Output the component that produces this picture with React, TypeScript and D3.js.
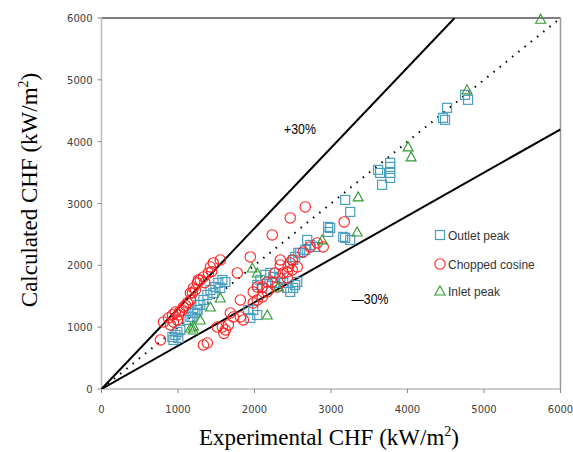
import React from "react";
import * as d3 from "d3";

const ticks = [0, 1000, 2000, 3000, 4000, 5000, 6000];

const outletPeak = [
  [940, 793], [966, 874], [992, 922], [1031, 955], [927, 841], [1005, 825],
  [1136, 1117], [1188, 1165], [1227, 1230], [1266, 1359], [1253, 1278],
  [1162, 1165], [1201, 1230], [1253, 1278], [1292, 1359], [1332, 1440], [1384, 1521],
  [1423, 1602], [1488, 1650], [1527, 1715], [1580, 1764], [1619, 1731], [1553, 1634], [1462, 1553],
  [2036, 1683], [2076, 1764], [2102, 1634], [2141, 1845], [2206, 1877], [2245, 1812],
  [2271, 1715], [2337, 1796], [2376, 1715], [2428, 1634], [2467, 1570], [2506, 1634],
  [2532, 1683], [2559, 1731], [2572, 2201], [2506, 2087], [1984, 1278], [2036, 1197],
  [1919, 1278], [1945, 1149],
  [2532, 2136], [2598, 2201], [2663, 2249], [2689, 2411], [2728, 2330], [2794, 2298],
  [2963, 2621], [2963, 2540], [2990, 2605], [3159, 2460], [3185, 2443], [3251, 2411],
  [3185, 3058], [3251, 2864],
  [3642, 3495], [3616, 3544], [3668, 3301], [3773, 3592], [3773, 3657], [3773, 3495], [3773, 3414],
  [4517, 4547], [4465, 4385], [4491, 4353], [4752, 4757], [4791, 4676],
];

const choppedCosine = [
  [770, 793], [810, 1084], [875, 1149], [927, 1197], [966, 1246], [901, 1036], [940, 1084],
  [992, 1117], [1005, 1197], [1057, 1278], [1070, 1327], [1123, 1392], [1162, 1440],
  [1188, 1553], [1227, 1602], [1253, 1715], [1266, 1764], [1162, 1553], [1201, 1634],
  [1292, 1764], [1332, 1812], [1397, 1877], [1423, 1974], [1462, 2039], [1553, 2087],
  [1100, 1350], [1020, 1250], [1350, 1720], [1440, 1900],
  [1775, 1877], [1945, 2136], [2232, 2492], [2467, 2767], [2663, 2945], [3172, 2702],
  [2820, 2362], [2898, 2298], [2728, 2298], [2637, 2217], [2493, 2087], [2441, 1974],
  [2493, 1926], [2337, 2006], [2271, 1877], [2337, 2087], [2467, 2039], [2559, 1974],
  [2428, 1893], [1984, 1570], [2036, 1650], [2102, 1650], [2167, 1731], [2232, 1731],
  [2376, 1877], [2428, 1796], [1815, 1440], [1984, 1392], [2036, 1440], [2102, 1489],
  [2167, 1570], [2298, 1650], [1684, 1230], [1723, 1165], [1815, 1165], [1854, 1117],
  [1514, 1003], [1580, 1003], [1619, 955], [1658, 1036], [1600, 900], [1332, 712], [1384, 744],
];

const inletPeak = [
  [1162, 987], [1201, 955], [1201, 1020], [1292, 1117], [1423, 1327], [1553, 1472],
  [1971, 1958], [2036, 1877], [2167, 1197], [2311, 1650], [2885, 2411], [3342, 2540],
  [3355, 3107], [4008, 3916], [4047, 3754], [4778, 4838], [5740, 5980],
];

const blue = "#4a9fc0";
const red = "#ff2020";
const green = "#2e9a2e";

const x = d3.scaleLinear().domain([0, 6000]).range([101.5, 560.5]);
const y = d3.scaleLinear().domain([0, 6000]).range([389, 18]);

const Square = ({ cx, cy }) => (
  <rect x={cx - 4.5} y={cy - 4.5} width={9} height={9} fill="none" stroke={blue} strokeWidth="1.2" />
);
const Circle = ({ cx, cy }) => <circle cx={cx} cy={cy} r={5.2} fill="none" stroke={red} strokeWidth="1.1" />;
const Tri = ({ cx, cy }) => (
  <path d={`M${cx},${cy - 5}L${cx + 5},${cy + 4}L${cx - 5},${cy + 4}Z`} fill="none" stroke={green} strokeWidth="1.1" />
);

const App = () => {
  const line = d3
    .line()
    .x((d) => x(d[0]))
    .y((d) => y(d[1]));
  const tickFont = { fontFamily: "DejaVu Sans", fontSize: 10, fill: "#404040" };
  const legendFont = { fontFamily: "Liberation Sans", fontSize: 12, fill: "#333" };

  return (
    <svg width={573} height={452} style={{ position: "absolute", left: 0, top: 0, background: "#fff" }}>
      <defs>
        <clipPath id="plot">
          <rect x={x(0)} y={y(6000)} width={x(6000) - x(0)} height={y(0) - y(6000)} />
        </clipPath>
      </defs>

      {/* frame */}
      <line x1={x(0)} x2={x(6000)} y1={y(6000)} y2={y(6000)} stroke="#555" strokeWidth="1.5" />
      <line x1={x(6000)} x2={x(6000)} y1={y(6000)} y2={y(0)} stroke="#999" strokeWidth="1.5" />
      <line x1={x(0)} x2={x(0)} y1={y(6000)} y2={y(0)} stroke="#bbb" strokeWidth="1.5" />
      <line x1={x(0)} x2={x(6000)} y1={y(0)} y2={y(0)} stroke="#bbb" strokeWidth="1.5" />

      {ticks.map((t) => (
        <g key={"y" + t}>
          <line x1={x(0) - 4} x2={x(0)} y1={y(t)} y2={y(t)} stroke="#888" />
          <text x={x(0) - 9} y={y(t) + 4} textAnchor="end" {...tickFont}>
            {t}
          </text>
        </g>
      ))}
      {ticks.map((t) => (
        <g key={"x" + t}>
          <line x1={x(t)} x2={x(t)} y1={y(0)} y2={y(0) + 4} stroke="#888" />
          <text x={x(t)} y={y(0) + 24} textAnchor="middle" {...tickFont}>
            {t}
          </text>
        </g>
      ))}

      <g clipPath="url(#plot)">
        <path d={line([[0, 0], [6000 / 1.3, 6000]])} stroke="#000" strokeWidth="2" fill="none" />
        <path d={line([[0, 0], [6000, 4200]])} stroke="#000" strokeWidth="2" fill="none" />
        <path
          d={line([[0, 0], [6000, 6000]])}
          stroke="#000"
          strokeWidth="2"
          strokeDasharray="1.5 6.5"
          fill="none"
        />
      </g>

      {outletPeak.map((d, i) => (
        <Square key={"s" + i} cx={x(d[0])} cy={y(d[1])} />
      ))}
      {choppedCosine.map((d, i) => (
        <Circle key={"c" + i} cx={x(d[0])} cy={y(d[1])} />
      ))}
      {inletPeak.map((d, i) => (
        <Tri key={"t" + i} cx={x(d[0])} cy={y(d[1])} />
      ))}

      <text x={300} y={134} textAnchor="middle" fontFamily="Liberation Sans" fontSize="15" transform="translate(300 0) scale(0.82 1) translate(-300 0)">
        +30%
      </text>
      <text x={370} y={304} textAnchor="middle" fontFamily="Liberation Sans" fontSize="15" transform="translate(370 0) scale(0.82 1) translate(-370 0)">
        —30%
      </text>

      {/* legend */}
      <Square cx={440} cy={235} />
      <text x={448} y={239.5} {...legendFont}>Outlet peak</text>
      <Circle cx={440} cy={264} />
      <text x={448} y={268.5} {...legendFont}>Chopped cosine</text>
      <Tri cx={440} cy={291} />
      <text x={448} y={295.5} {...legendFont}>Inlet peak</text>

      <text x={329} y={445} textAnchor="middle" fontFamily="Liberation Serif" fontSize="23">
        Experimental CHF (kW/m<tspan dy="-9" fontSize="14">2</tspan><tspan dy="9">)</tspan>
      </text>
      <text
        transform="translate(37 190) rotate(-90)"
        textAnchor="middle"
        fontFamily="Liberation Serif"
        fontSize="23"
      >
        Calculated CHF (kW/m<tspan dy="-9" fontSize="14">2</tspan><tspan dy="9">)</tspan>
      </text>
    </svg>
  );
};

export default App;
